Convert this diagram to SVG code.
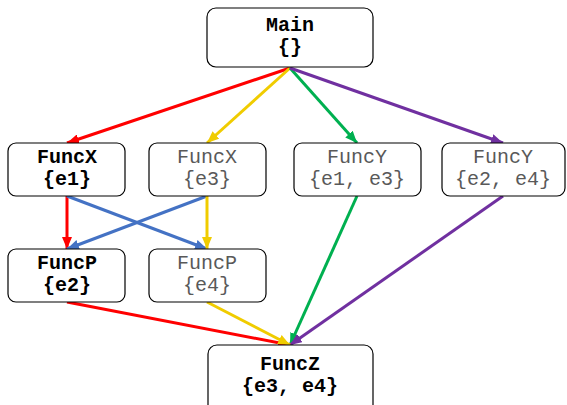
<svg xmlns="http://www.w3.org/2000/svg" width="567" height="405" viewBox="0 0 567 405">
  <style>
    .box { fill: #ffffff; stroke: #000000; stroke-width: 1.2; }
    .t { font-family: "Liberation Mono", "Courier New", monospace; font-size: 20px; text-anchor: middle; }
    .b { font-weight: bold; fill: #000000; }
    .n { fill: #595959; }
    .e { fill: none; stroke-width: 3; }
    .red { stroke: #ff0000; }
    .yel { stroke: #f0cc00; }
    .grn { stroke: #00b050; }
    .pur { stroke: #7030a0; }
    .blu { stroke: #4472c4; }
  </style>
  <defs>
    <marker id="ah-red" markerUnits="userSpaceOnUse" markerWidth="12" markerHeight="10" refX="12" refY="5" orient="auto"><path d="M0,0 L12,5 L0,10 z" fill="#ff0000"/></marker>
    <marker id="ah-yel" markerUnits="userSpaceOnUse" markerWidth="12" markerHeight="10" refX="12" refY="5" orient="auto"><path d="M0,0 L12,5 L0,10 z" fill="#f0cc00"/></marker>
    <marker id="ah-grn" markerUnits="userSpaceOnUse" markerWidth="12" markerHeight="10" refX="12" refY="5" orient="auto"><path d="M0,0 L12,5 L0,10 z" fill="#00b050"/></marker>
    <marker id="ah-pur" markerUnits="userSpaceOnUse" markerWidth="12" markerHeight="10" refX="12" refY="5" orient="auto"><path d="M0,0 L12,5 L0,10 z" fill="#7030a0"/></marker>
    <marker id="ah-blu" markerUnits="userSpaceOnUse" markerWidth="12" markerHeight="10" refX="12" refY="5" orient="auto"><path d="M0,0 L12,5 L0,10 z" fill="#4472c4"/></marker>
  </defs>

  <g id="connectors">
    <!-- Main to the four callers -->
    <line class="e red" x1="290" y1="68" x2="67" y2="143" marker-end="url(#ah-red)"/>
    <line class="e yel" x1="290" y1="68" x2="207" y2="143" marker-end="url(#ah-yel)"/>
    <line class="e grn" x1="290" y1="68" x2="357" y2="143" marker-end="url(#ah-grn)"/>
    <line class="e pur" x1="290" y1="68" x2="503" y2="143" marker-end="url(#ah-pur)"/>
    <!-- FuncX to FuncP -->
    <line class="e red" x1="67" y1="196" x2="67" y2="249" marker-end="url(#ah-red)"/>
    <line class="e blu" x1="67" y1="196" x2="207" y2="249" marker-end="url(#ah-blu)"/>
    <line class="e blu" x1="207" y1="196" x2="67" y2="249" marker-end="url(#ah-blu)"/>
    <line class="e yel" x1="207" y1="196" x2="207" y2="249" marker-end="url(#ah-yel)"/>
    <!-- into FuncZ -->
    <line class="e grn" x1="357" y1="196" x2="290" y2="345" marker-end="url(#ah-grn)"/>
    <line class="e pur" x1="503" y1="196" x2="290" y2="345" marker-end="url(#ah-pur)"/>
    <line class="e red" x1="67" y1="302" x2="290" y2="345" marker-end="url(#ah-red)"/>
    <line class="e yel" x1="207" y1="302" x2="290" y2="345" marker-end="url(#ah-yel)"/>
  </g>

  <g id="main">
    <rect class="box" x="207" y="8" width="166" height="59" rx="9"/>
    <text class="t b" x="290" y="31">Main</text>
    <text class="t b" x="290" y="53">{}</text>
  </g>
  <g id="funcx-e1">
    <rect class="box" x="8" y="143" width="117" height="53" rx="8"/>
    <text class="t b" x="67" y="163">FuncX</text>
    <text class="t b" x="67" y="185">{e1}</text>
  </g>
  <g id="funcx-e3">
    <rect class="box" x="149" y="143" width="117" height="53" rx="8"/>
    <text class="t n" x="207" y="163">FuncX</text>
    <text class="t n" x="207" y="185">{e3}</text>
  </g>
  <g id="funcy-e1-e3">
    <rect class="box" x="294" y="143" width="127" height="53" rx="8"/>
    <text class="t n" x="357" y="163">FuncY</text>
    <text class="t n" x="357" y="185">{e1, e3}</text>
  </g>
  <g id="funcy-e2-e4">
    <rect class="box" x="442" y="143" width="123" height="53" rx="8"/>
    <text class="t n" x="503" y="163">FuncY</text>
    <text class="t n" x="503" y="185">{e2, e4}</text>
  </g>
  <g id="funcp-e2">
    <rect class="box" x="8" y="249" width="117" height="53" rx="8"/>
    <text class="t b" x="67" y="269">FuncP</text>
    <text class="t b" x="67" y="291">{e2}</text>
  </g>
  <g id="funcp-e4">
    <rect class="box" x="149" y="249" width="117" height="53" rx="8"/>
    <text class="t n" x="207" y="269">FuncP</text>
    <text class="t n" x="207" y="291">{e4}</text>
  </g>
  <g id="funcz">
    <rect class="box" x="208" y="345" width="165" height="70" rx="9"/>
    <text class="t b" x="290" y="370">FuncZ</text>
    <text class="t b" x="290" y="392">{e3, e4}</text>
  </g>
</svg>
